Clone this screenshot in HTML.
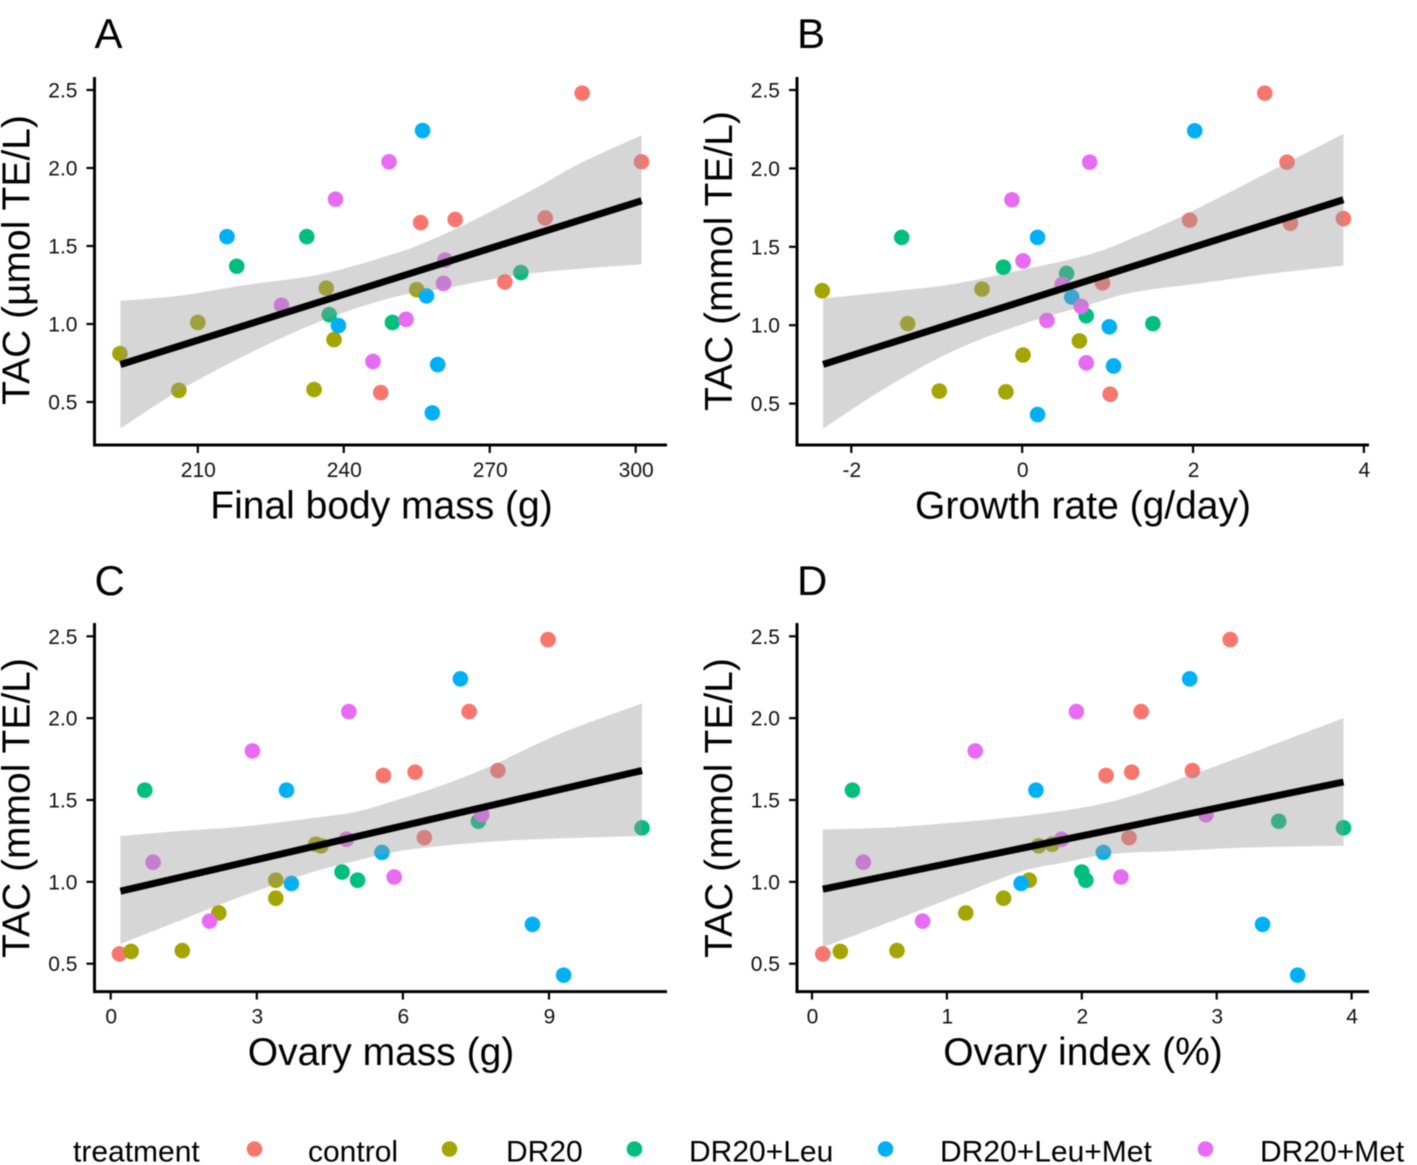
<!DOCTYPE html>
<html lang="en">
<head>
<meta charset="utf-8">
<title>TAC versus body and ovary measures</title>
<style>
html,body{margin:0;padding:0;background:#fff;}
svg{display:block;font-family:"Liberation Sans",Arial,sans-serif;filter:blur(0.4px);}
</style>
</head>
<body>
<svg id="figure" xmlns="http://www.w3.org/2000/svg" width="1417" height="1165" viewBox="0 0 1417 1165"></svg>
<script>
// ---------- categories ----------
const treatments = ['control', 'DR20', 'DR20+Leu', 'DR20+Leu+Met', 'DR20+Met'];

// ---------- shared response (TAC) by treatment ----------
const tacControl = [2.48, 2.04, 1.68, 1.67, 1.65, 1.27, 0.56];
const tacDR20 = [1.23, 1.22, 1.01, 0.90, 0.81, 0.58, 0.575];
const tacLeu = [1.56, 1.37, 1.33, 1.06, 1.01];
const tacLeuMet = [2.24, 1.56, 1.18, 0.99, 0.74, 0.43];
const tacMet = [2.04, 1.80, 1.41, 1.26, 1.12, 1.03, 0.76];

// ---------- panel A: final body mass ----------
const massControl = [289, 301.2, 281.4, 262.9, 255.8, 273.1, 247.6];
const massDR20 = [236.4, 255, 210, 238, 194, 233.9, 206.1];
const massLeu = [232.4, 218, 276.4, 237, 250];
const massLeuMet = [256.2, 216, 257, 238.9, 259.3, 258.2];
const massMet = [249.3, 238.3, 260.8, 260.5, 227.2, 252.8, 246];
const massUpperX = [194.1, 206, 219.8, 235.4, 250, 256.5, 265.7, 279.4, 288.6, 301.2];
const massUpperY = [1.149, 1.18, 1.25, 1.32, 1.447, 1.52, 1.65, 1.87, 2.03, 2.21];
const massLowerX = [194.1, 206, 219.8, 235.4, 250, 261, 274.8, 288.6, 301.2];
const massLowerY = [0.33, 0.57, 0.80, 1.02, 1.17, 1.23, 1.31, 1.354, 1.383];
const massFitX = [194.1, 301.2];
const massFitY = [0.74, 1.79];
const massTicks = [210, 240, 270, 300];

// ---------- panel B: growth rate ----------
const growthControl = [2.84, 3.10, 3.76, 1.96, 3.14, 0.94, 1.03];
const growthDR20 = [-0.47, -2.34, -1.34, 0.67, 0.01, -0.97, -0.19];
const growthLeu = [-1.41, -0.22, 0.52, 0.75, 1.53];
const growthLeuMet = [2.02, 0.18, 0.58, 1.02, 1.07, 0.18];
const growthMet = [0.79, -0.12, 0.01, 0.47, 0.69, 0.29, 0.75];
const growthUpperX = [-2.33, -1.63, -0.83, -0.03, 0.78, 1.31, 1.85, 2.65, 3.76];
const growthUpperY = [1.17, 1.21, 1.26, 1.35, 1.45, 1.56, 1.69, 1.91, 2.22];
const growthLowerX = [-2.33, -1.63, -0.83, -0.03, 0.78, 1.31, 2.12, 2.92, 3.76];
const growthLowerY = [0.34, 0.59, 0.83, 1.00, 1.13, 1.21, 1.27, 1.33, 1.38];
const growthFitX = [-2.33, 3.76];
const growthFitY = [0.75, 1.80];
const growthTicks = [-2, 0, 2, 4];

// ---------- panel C: ovary mass ----------
const ovaryControl = [8.98, 7.36, 7.95, 6.25, 5.60, 6.44, 0.18];
const ovaryDR20 = [4.21, 4.32, 3.39, 3.39, 2.22, 1.47, 0.42];
const ovaryLeu = [0.70, 7.55, 10.91, 4.75, 5.07];
const ovaryLeuMet = [7.18, 3.61, 5.57, 3.71, 8.66, 9.30];
const ovaryMet = [4.89, 2.91, 7.62, 4.84, 0.87, 5.82, 2.03];
const ovaryUpperX = [0.2, 1.39, 2.77, 4.15, 5.06, 5.98, 6.9, 7.82, 9.19, 10.91];
const ovaryUpperY = [1.28, 1.31, 1.34, 1.39, 1.43, 1.51, 1.60, 1.71, 1.90, 2.09];
const ovaryLowerX = [0.2, 1.39, 2.77, 4.15, 5.06, 5.98, 7.36, 8.73, 10.91];
const ovaryLowerY = [0.62, 0.76, 0.92, 1.06, 1.13, 1.19, 1.235, 1.26, 1.28];
const ovaryFitX = [0.2, 10.91];
const ovaryFitY = [0.943, 1.68];
const ovaryTicks = [0, 3, 6, 9];

// ---------- panel D: ovary index ----------
const indexControl = [3.10, 2.44, 2.82, 2.37, 2.18, 2.35, 0.08];
const indexDR20 = [1.78, 1.68, 1.61, 1.42, 1.14, 0.63, 0.21];
const indexLeu = [0.30, 3.46, 3.94, 2.00, 2.03];
const indexLeuMet = [2.80, 1.66, 2.16, 1.55, 3.34, 3.60];
const indexMet = [1.96, 1.21, 2.92, 1.85, 0.38, 2.29, 0.82];
const indexUpperX = [0.08, 0.53, 1.03, 1.54, 2.05, 2.39, 2.73, 3.07, 3.94];
const indexUpperY = [1.32, 1.33, 1.36, 1.40, 1.46, 1.53, 1.63, 1.73, 2.00];
const indexLowerX = [0.08, 0.53, 1.03, 1.54, 1.88, 2.22, 2.73, 3.24, 3.94];
const indexLowerY = [0.60, 0.74, 0.90, 1.06, 1.12, 1.17, 1.19, 1.21, 1.22];
const indexFitX = [0.08, 3.94];
const indexFitY = [0.955, 1.61];
const indexTicks = [0, 1, 2, 3, 4];

const yTicks = [0.5, 1.0, 1.5, 2.0, 2.5];
const tacByTreatment = [tacControl, tacDR20, tacLeu, tacLeuMet, tacMet];

const SVG_NS = 'http://www.w3.org/2000/svg';
const svg = document.getElementById('figure');
const hue = { 'control': '#F8766D', 'DR20': '#A3A500', 'DR20+Leu': '#00BF7D', 'DR20+Leu+Met': '#00B0F6', 'DR20+Met': '#E76BF3' };

function make(tag, attrs, parent, text) {
  const el = document.createElementNS(SVG_NS, tag);
  for (const k in attrs) el.setAttribute(k, attrs[k]);
  if (text !== undefined) el.textContent = text;
  parent.appendChild(el);
  return el;
}
function slug(s) { return s.toLowerCase().replace(/[^a-z0-9]+/g, '-'); }
function linear(v0, p0, v1, p1) { return v => p0 + (v - v0) * (p1 - p0) / (v1 - v0); }

// smooth curve segments through screen points (Catmull-Rom)
function smooth(pts) {
  let d = '';
  for (let i = 0; i < pts.length - 1; i++) {
    const p0 = pts[Math.max(i - 1, 0)];
    const p1 = pts[i];
    const p2 = pts[i + 1];
    const p3 = pts[Math.min(i + 2, pts.length - 1)];
    const c1x = p1[0] + (p2[0] - p0[0]) / 6;
    const c1y = p1[1] + (p2[1] - p0[1]) / 6;
    const c2x = p2[0] - (p3[0] - p1[0]) / 6;
    const c2y = p2[1] - (p3[1] - p1[1]) / 6;
    d += ' C' + c1x.toFixed(1) + ' ' + c1y.toFixed(1) + ' ' + c2x.toFixed(1) + ' ' + c2y.toFixed(1) + ' ' + p2[0].toFixed(1) + ' ' + p2[1].toFixed(1);
  }
  return d;
}

function drawPanel(cfg) {
  const g = make('g', {}, svg);
  
  
  const x = linear(cfg.xv0, cfg.xp0, cfg.xv1, cfg.xp1);
  const y = linear(0.5, cfg.y05, 2.5, cfg.y25);

  const letter = make('text', { x: cfg.left, y: cfg.letterY, 'font-size': 42, fill: '#000' }, g, cfg.letter);
  
  

  // points, beneath the ribbon
  const pts = make('g', {}, g);
  
  
  treatments.forEach((t, i) => {
    cfg.xs[i].forEach((xv, j) => {
      const c = make('circle', { cx: x(xv), cy: y(tacByTreatment[i][j]), r: 7.8, fill: hue[t] }, pts);
      
      
    });
  });

  // confidence ribbon
  const up = cfg.upperX.map((v, i) => [x(v), y(cfg.upperY[i])]);
  const lo = cfg.lowerX.map((v, i) => [x(v), y(cfg.lowerY[i])]).reverse();
  const ribbonPath = 'M' + up[0][0].toFixed(1) + ' ' + up[0][1].toFixed(1) + smooth(up) +
    ' L' + lo[0][0].toFixed(1) + ' ' + lo[0][1].toFixed(1) + smooth(lo) + ' Z';
  const ribbon = make('path', { d: ribbonPath, fill: '#999999', 'fill-opacity': 0.4 }, g);
  
  

  // fit line
  const fit = make('line', { x1: x(cfg.fitX[0]), y1: y(cfg.fitY[0]), x2: x(cfg.fitX[1]), y2: y(cfg.fitY[1]), stroke: '#000', 'stroke-width': 7 }, g);
  
  

  // axes
  const yAxis = make('line', { x1: cfg.left, y1: cfg.top, x2: cfg.left, y2: cfg.bottom + 1.5, stroke: '#000', 'stroke-width': 3 }, g);
  
  
  const xAxis = make('line', { x1: cfg.left, y1: cfg.bottom, x2: cfg.right, y2: cfg.bottom, stroke: '#000', 'stroke-width': 3 }, g);
  
  

  yTicks.forEach(v => {
    const tick = make('line', { x1: cfg.left - 8, x2: cfg.left, y1: y(v), y2: y(v), stroke: '#000', 'stroke-width': 2.2 }, g);
    
    
    const lab = make('text', { x: cfg.left - 17, y: y(v) + 7.5, 'text-anchor': 'end', 'font-size': 21, fill: '#111' }, g, v.toFixed(1));
    
    
  });
  cfg.ticks.forEach(v => {
    const tick = make('line', { x1: x(v), x2: x(v), y1: cfg.bottom, y2: cfg.bottom + 8, stroke: '#000', 'stroke-width': 2.2 }, g);
    
    
    const lab = make('text', { x: x(v) + 0.5, y: cfg.bottom + 32, 'text-anchor': 'middle', 'font-size': 21, fill: '#111' }, g, String(v));
    
    
  });

  const xt = make('text', { x: cfg.xTitleX, y: cfg.bottom + 73.3, 'text-anchor': 'middle', 'font-size': 39, fill: '#000' }, g, cfg.xTitle);
  
  
  const yt = make('text', { transform: 'translate(' + cfg.yTitleX + ' ' + cfg.yTitleY + ') rotate(-90)', 'text-anchor': 'middle', 'font-size': 39, fill: '#000' }, g, cfg.yTitle);
  
  
}

drawPanel({ letter: 'A', left: 94.5, right: 667, top: 77, bottom: 445, letterY: 48,
  xv0: 210, xp0: 197.8, xv1: 300, xp1: 635.7, y05: 402, y25: 90,
  xs: [massControl, massDR20, massLeu, massLeuMet, massMet],
  upperX: massUpperX, upperY: massUpperY, lowerX: massLowerX, lowerY: massLowerY,
  fitX: massFitX, fitY: massFitY, ticks: massTicks,
  xTitle: 'Final body mass (g)', xTitleX: 381.5,
  yTitle: 'TAC (µmol TE/L)', yTitleX: 29.5, yTitleY: 260 });

drawPanel({ letter: 'B', left: 797, right: 1369, top: 77, bottom: 445, letterY: 48,
  xv0: -2, xp0: 851.3, xv1: 4, xp1: 1363.9, y05: 403.6, y25: 90,
  xs: [growthControl, growthDR20, growthLeu, growthLeuMet, growthMet],
  upperX: growthUpperX, upperY: growthUpperY, lowerX: growthLowerX, lowerY: growthLowerY,
  fitX: growthFitX, fitY: growthFitY, ticks: growthTicks,
  xTitle: 'Growth rate (g/day)', xTitleX: 1083,
  yTitle: 'TAC (mmol TE/L)', yTitleX: 732, yTitleY: 261 });

drawPanel({ letter: 'C', left: 94.5, right: 667, top: 623, bottom: 991.6, letterY: 595,
  xv0: 0, xp0: 110.7, xv1: 9, xp1: 549, y05: 963.7, y25: 636.3,
  xs: [ovaryControl, ovaryDR20, ovaryLeu, ovaryLeuMet, ovaryMet],
  upperX: ovaryUpperX, upperY: ovaryUpperY, lowerX: ovaryLowerX, lowerY: ovaryLowerY,
  fitX: ovaryFitX, fitY: ovaryFitY, ticks: ovaryTicks,
  xTitle: 'Ovary mass (g)', xTitleX: 381,
  yTitle: 'TAC (mmol TE/L)', yTitleX: 29.5, yTitleY: 808 });

drawPanel({ letter: 'D', left: 797, right: 1369, top: 623, bottom: 991.6, letterY: 595,
  xv0: 0, xp0: 812, xv1: 4, xp1: 1351.6, y05: 963.7, y25: 636.3,
  xs: [indexControl, indexDR20, indexLeu, indexLeuMet, indexMet],
  upperX: indexUpperX, upperY: indexUpperY, lowerX: indexLowerX, lowerY: indexLowerY,
  fitX: indexFitX, fitY: indexFitY, ticks: indexTicks,
  xTitle: 'Ovary index (%)', xTitleX: 1083,
  yTitle: 'TAC (mmol TE/L)', yTitleX: 732, yTitleY: 808 });

// ---------- legend ----------
const legend = make('g', {}, svg);


const legendTitle = make('text', { x: 73, y: 1161.5, 'font-size': 30, fill: '#000' }, legend, 'treatment');


const legendDotX = { 'control': 254.5, 'DR20': 449.5, 'DR20+Leu': 634.5, 'DR20+Leu+Met': 885.5, 'DR20+Met': 1205.5 };
const legendTextX = { 'control': 308, 'DR20': 506, 'DR20+Leu': 689, 'DR20+Leu+Met': 940, 'DR20+Met': 1260 };
treatments.forEach(t => {
  const entry = make('g', {}, legend);
  
  
  const dot = make('circle', { cx: legendDotX[t], cy: 1149, r: 7.8, fill: hue[t] }, entry);
  
  
  const lab = make('text', { x: legendTextX[t], y: 1161.5, 'font-size': 30, fill: '#000' }, entry, t);
  
  
});
</script>
</body>
</html>
